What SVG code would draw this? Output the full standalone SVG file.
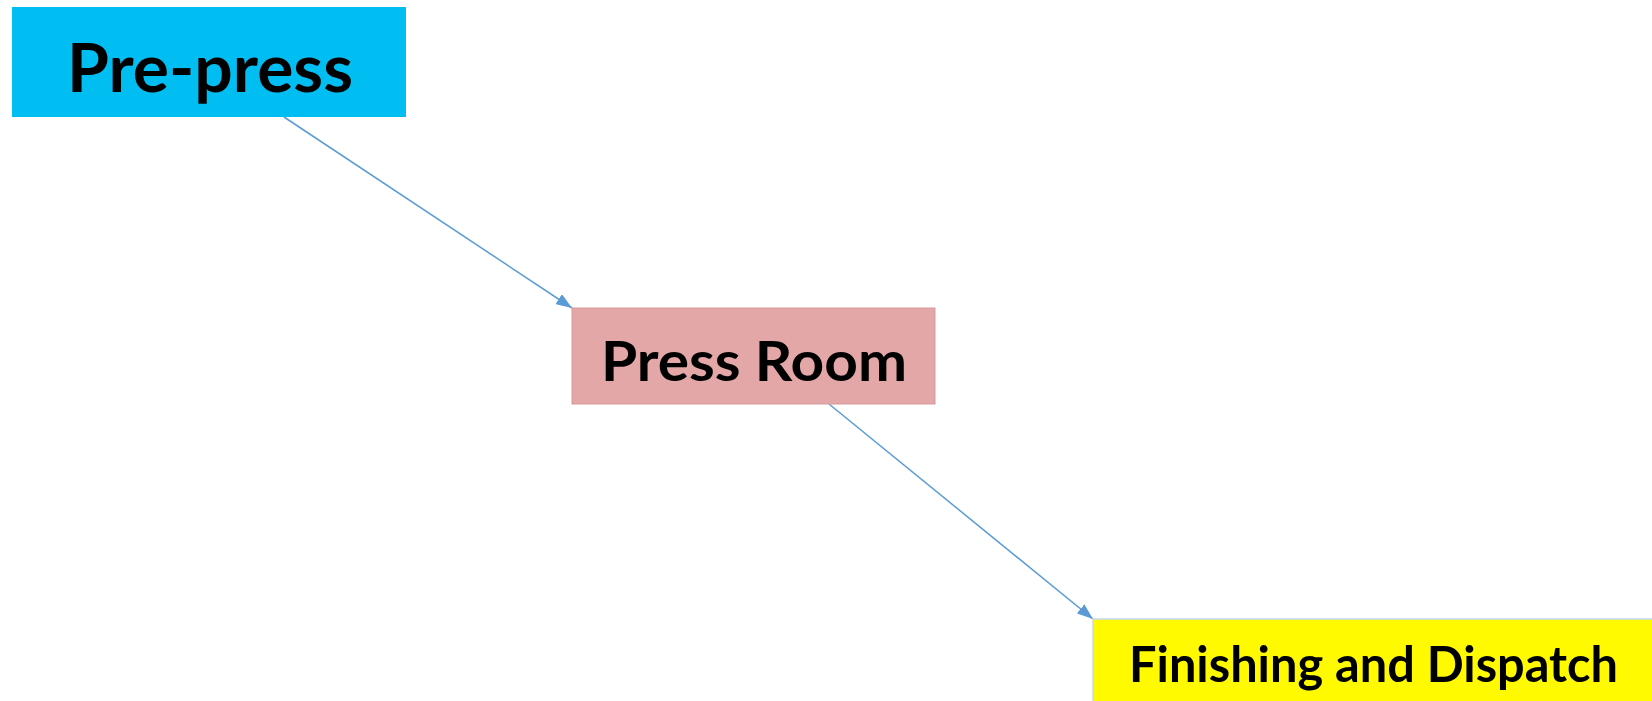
<svg xmlns="http://www.w3.org/2000/svg" width="1652" height="701" viewBox="0 0 1652 701">
<style>
.lbl{font-family:Lato,"Open Sans","Liberation Sans",sans-serif;font-weight:700;fill:#000}
.conn{stroke:#5B9BD5;stroke-width:1.5;fill:none;marker-end:url(#arr)}
</style>
<defs>
<marker id="arr" markerUnits="userSpaceOnUse" markerWidth="16" markerHeight="12" refX="16" refY="6" orient="auto" viewBox="0 0 16 12">
<path d="M0,0 L16,6 L0,12 Z" fill="#5B9BD5"/>
</marker>
</defs>
<rect width="1652" height="701" fill="#fff"/>
<g id="connectors">
<line class="conn" x1="284" y1="117" x2="572" y2="308"/>
<line class="conn" x1="829" y1="404" x2="1093" y2="619"/>
</g>
<g id="prepress">
<rect x="12" y="7" width="394" height="110" fill="#00BEF2"/>
<text class="lbl" x="67" y="92" font-size="66" textLength="286" lengthAdjust="spacingAndGlyphs">Pre-press</text>
</g>
<g id="pressroom">
<rect x="572" y="308" width="363" height="96" fill="#E2A7A6" stroke="#D9999A" stroke-width="1"/>
<text class="lbl" x="601" y="381" font-size="55" textLength="306" lengthAdjust="spacingAndGlyphs">Press Room</text>
</g>
<g id="finishing">
<rect x="1093" y="619" width="580" height="90" fill="#FFFA00" stroke="#C6D9F0" stroke-width="1.5"/>
<text class="lbl" x="1129" y="682" font-size="49" textLength="489" lengthAdjust="spacingAndGlyphs">Finishing and Dispatch</text>
</g>
</svg>
